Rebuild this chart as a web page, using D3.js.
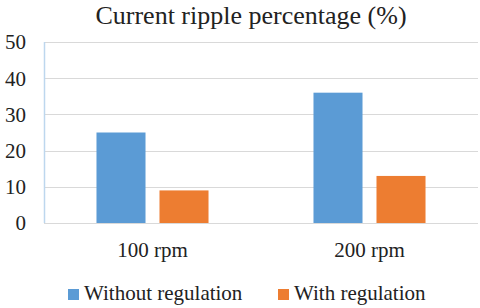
<!DOCTYPE html>
<html>
<head>
<meta charset="utf-8">
<script src="https://cdn.jsdelivr.net/npm/d3@7"></script>
<style>
  body { margin: 0; background: #fff; }
  text { font-family: "Liberation Serif", "Times New Roman", serif; fill: #222; }
</style>
</head>
<body>
<svg id="chart" width="480" height="308"></svg>
<script>
var categories = ['100 rpm', '200 rpm'];
var seriesNames = ['Without regulation', 'With regulation'];
var withoutRegulation = [25, 36];
var withRegulation = [9, 13];
var yTicks = [0, 10, 20, 30, 40, 50];

var colors = ['#5b9bd5', '#ed7d31'];
var seriesValues = [withoutRegulation, withRegulation];

var svg = d3.select('#chart');
var plotLeft = 44, plotRight = 478, plotTop = 42, plotBottom = 223;

var x0 = d3.scaleBand()
    .domain(categories)
    .range([plotLeft, plotRight])
    .padding(0);

var x1 = d3.scaleBand()
    .domain(seriesNames)
    .range([0, x0.bandwidth()])
    .paddingInner(0.222)
    .paddingOuter(0.833);

var y = d3.scaleLinear()
    .domain([0, 50])
    .range([plotBottom, plotTop]);

// title
svg.append('text')
    .attr('x', 251)
    .attr('y', 24)
    .attr('text-anchor', 'middle')
    .style('font-size', '26px')
    .text('Current ripple percentage (%)');

// gridlines
svg.append('g')
    .selectAll('line')
    .data(yTicks)
    .enter().append('line')
    .attr('x1', plotLeft)
    .attr('x2', plotRight)
    .attr('y1', function (d) { return Math.round(y(d)) + 0.5; })
    .attr('y2', function (d) { return Math.round(y(d)) + 0.5; })
    .attr('stroke', '#d9d9d9')
    .attr('stroke-width', 1.2);

// y labels
svg.append('g')
    .selectAll('text')
    .data(yTicks)
    .enter().append('text')
    .attr('x', 26)
    .attr('y', function (d) { return y(d); })
    .attr('dy', '0.35em')
    .attr('text-anchor', 'end')
    .style('font-size', '21px')
    .text(function (d) { return d; });

// left axis line
svg.append('line')
    .attr('x1', plotLeft + 0.5)
    .attr('x2', plotLeft + 0.5)
    .attr('y1', plotTop)
    .attr('y2', plotBottom)
    .attr('stroke', '#bdd7ee')
    .attr('stroke-width', 1.5);

// bars
var groups = svg.append('g')
    .selectAll('g')
    .data(categories)
    .enter().append('g')
    .attr('transform', function (d) { return 'translate(' + x0(d) + ',0)'; });

groups.selectAll('rect')
    .data(function (d, i) {
        return seriesNames.map(function (s, j) {
            return { series: s, value: seriesValues[j][i], color: colors[j] };
        });
    })
    .enter().append('rect')
    .attr('x', function (d) { return x1(d.series); })
    .attr('y', function (d) { return y(d.value); })
    .attr('width', x1.bandwidth())
    .attr('height', function (d) { return y(0) - y(d.value); })
    .attr('fill', function (d) { return d.color; });

// category labels
svg.append('g')
    .selectAll('text')
    .data(categories)
    .enter().append('text')
    .attr('x', function (d) { return x0(d) + x0.bandwidth() / 2; })
    .attr('y', 257)
    .attr('text-anchor', 'middle')
    .style('font-size', '21px')
    .text(function (d) { return d; });

// legend
var legendX = [68, 278];
var legend = svg.append('g')
    .selectAll('g')
    .data(seriesNames)
    .enter().append('g')
    .attr('transform', function (d, i) { return 'translate(' + legendX[i] + ',289)'; });

legend.append('rect')
    .attr('width', 11)
    .attr('height', 11)
    .attr('fill', function (d, i) { return colors[i]; });

legend.append('text')
    .attr('x', 16)
    .attr('y', 11)
    .style('font-size', '21px')
    .text(function (d) { return d; });
</script>
</body>
</html>
